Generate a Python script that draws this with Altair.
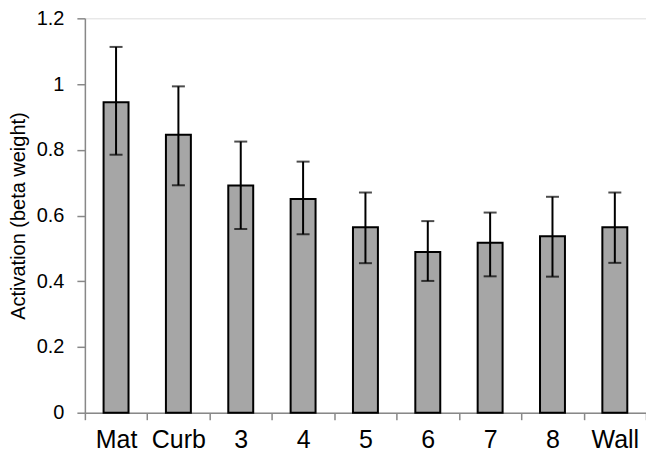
import altair as alt
import pandas as pd

categories = ["Mat", "Curb", "3", "4", "5", "6", "7", "8", "Wall"]
means = [0.945, 0.846, 0.691, 0.650, 0.564, 0.489, 0.517, 0.537, 0.564]
err_hi = [1.113, 0.993, 0.825, 0.764, 0.670, 0.583, 0.609, 0.657, 0.670]
err_lo = [0.785, 0.692, 0.559, 0.543, 0.455, 0.401, 0.415, 0.414, 0.456]

df = pd.DataFrame({"cat": categories, "mean": means, "hi": err_hi, "lo": err_lo})

FONT = "Liberation Sans"

x_enc = alt.X("cat:N", sort=categories,
              scale=alt.Scale(paddingInner=0, paddingOuter=0),
              axis=alt.Axis(title=None, labelAngle=0, labelFontSize=25, labelFont=FONT,
                            labelColor="#000", labelPadding=8, ticks=True, tickBand="extent",
                            tickSize=7, tickColor="#888", tickWidth=1.5,
                            domainColor="#888", domainWidth=1.5, grid=False))

y_scale = alt.Scale(domain=[0, 1.2], nice=False)

bars = alt.Chart(df).mark_bar(width=alt.RelativeBandSize(0.4), fill="#a6a6a6",
                              stroke="black", strokeWidth=2).encode(
    x=x_enc,
    y=alt.Y("mean:Q", scale=y_scale,
            axis=alt.Axis(title="Activation (beta weight)", titleFont=FONT, titleFontSize=20,
                          titleFontWeight="normal", titleColor="#000", titlePadding=8,
                          values=[0, 0.2, 0.4, 0.6, 0.8, 1.0, 1.2], format="~g",
                          labelFont=FONT, labelFontSize=20, labelColor="#000", labelPadding=13,
                          tickSize=8, tickColor="#888", tickWidth=1.5,
                          domainColor="#888", domainWidth=1.5, grid=False)),
)

rules = alt.Chart(df).mark_rule(color="black", strokeWidth=2).encode(
    x=alt.X("cat:N", sort=categories), y=alt.Y("lo:Q", scale=y_scale), y2="hi:Q")

caps_hi = alt.Chart(df).mark_tick(color="black", size=13, thickness=2).encode(
    x=alt.X("cat:N", sort=categories), y=alt.Y("hi:Q", scale=y_scale))
caps_lo = alt.Chart(df).mark_tick(color="black", size=13, thickness=2).encode(
    x=alt.X("cat:N", sort=categories), y=alt.Y("lo:Q", scale=y_scale))

chart = alt.layer(bars, rules, caps_hi, caps_lo).properties(
    width=562, height=395,
    autosize=alt.AutoSizeParams(type="none"),
    padding={"left": 77, "top": 10, "right": 0, "bottom": 40},
).configure_view(stroke=None).configure(background="white")

chart.save("out.html", embed_options={"renderer": "svg", "actions": False})
